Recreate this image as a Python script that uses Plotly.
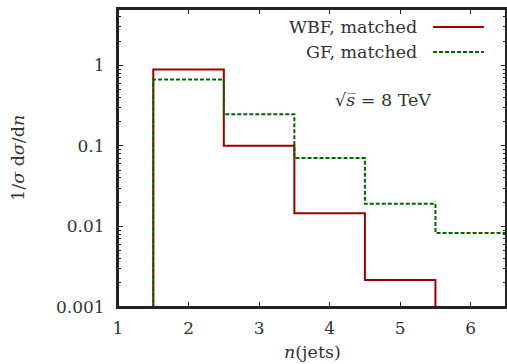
import plotly.graph_objects as go
import math

# ---- data ----
n_jets = [2, 3, 4, 5, 6]
wbf_matched = [0.89, 0.100, 0.0146, 0.00216, None]
gf_matched = [0.667, 0.247, 0.0707, 0.0191, 0.0083]
x_ticks = [1, 2, 3, 4, 5, 6]
y_ticks = [1, 0.1, 0.01, 0.001]
y_tick_text = ["1", "0.1", "0.01", "0.001"]

FLOOR = 1e-6  # below visible range, used to draw edges down to axis


def step_xy(centers, vals):
    xs, ys = [], []
    valid = [(c, v) for c, v in zip(centers, vals) if v is not None]
    first = valid[0][0] - 0.5
    xs.append(first); ys.append(FLOOR)
    for c, v in valid:
        xs.append(c - 0.5); ys.append(v)
    last = valid[-1][0] + 0.5
    xs.append(last); ys.append(FLOOR)
    return xs, ys


FONT = "DejaVu Serif"
RED = "#9a0000"
GREEN = "#006400"
TXT = "#333333"
TSIZE = 17.5

fig = go.Figure()
wx, wy = step_xy(n_jets, wbf_matched)
gx, gy = step_xy(n_jets, gf_matched)
fig.add_trace(go.Scatter(x=wx, y=wy, mode="lines", line_shape="hv",
                         line=dict(color=RED, width=2), name="WBF, matched",
                         showlegend=False))
fig.add_trace(go.Scatter(x=gx, y=gy, mode="lines", line_shape="hv",
                         line=dict(color=GREEN, width=2, dash="4px,2px"),
                         name="GF, matched", showlegend=False))

# legend (text right, sample on the right as in gnuplot)
leg = [("WBF, matched", RED, "solid", 0.9396), ("GF, matched", GREEN, "4px,2px", 0.8556)]
for txt, col, dash, yy in leg:
    fig.add_annotation(x=0.776, y=yy, xref="paper", yref="paper", text=txt,
                       showarrow=False, xanchor="right", yanchor="middle",
                       font=dict(family=FONT, size=TSIZE, color=TXT))
    fig.add_shape(type="line", xref="paper", yref="paper", x0=0.812, x1=0.943,
                  y0=yy, y1=yy, line=dict(color=col, width=2, dash=dash))

fig.add_annotation(x=0.683, y=0.694, xref="paper", yref="paper",
                   text="√<i>s\u0305</i> = 8 TeV",
                   showarrow=False, xanchor="center", yanchor="middle",
                   font=dict(family=FONT, size=TSIZE, color=TXT))

# axis titles
fig.add_annotation(x=-0.258, y=0.5, xref="paper", yref="paper",
                   text="1/<i>σ</i> d<i>σ</i>/d<i>n</i>", textangle=-90, showarrow=False,
                   xanchor="center", yanchor="middle",
                   font=dict(family=FONT, size=TSIZE, color=TXT))
fig.add_annotation(x=0.5, y=-0.151, xref="paper", yref="paper",
                   text="<i>n</i>(jets)", showarrow=False,
                   xanchor="center", yanchor="middle",
                   font=dict(family=FONT, size=TSIZE, color=TXT))

# frame
fig.add_shape(type="rect", xref="paper", yref="paper", x0=0, x1=1, y0=0, y1=1,
              line=dict(color="#222222", width=2), layer="above")

axis_common = dict(showline=True, linecolor="#222222", linewidth=2, mirror="allticks",
                   ticks="inside", ticklen=5, tickwidth=1, tickcolor="#222222",
                   showgrid=False, zeroline=False, automargin=False,
                   tickfont=dict(family=FONT, size=17, color=TXT))

fig.update_xaxes(range=[1, 6.5], tickvals=x_ticks, ticktext=[str(t) for t in x_ticks],
                 ticklabelstandoff=5,
                 **axis_common)
fig.update_yaxes(type="log", range=[-3, math.log10(5)], tickvals=y_ticks, ticktext=y_tick_text,
                 ticklabelstandoff=8,
                 minor=dict(ticks="inside", ticklen=3, tickcolor="#222222", dtick="D1",
                            showgrid=False),
                 **axis_common)

fig.update_layout(width=507, height=364, margin=dict(l=118, r=1, t=9, b=57),
                  plot_bgcolor="white", paper_bgcolor="white", showlegend=False)

fig.write_html("out.html", config={"displayModeBar": False},
               post_script="document.body.style.margin='0';document.body.style.overflow='hidden';")
